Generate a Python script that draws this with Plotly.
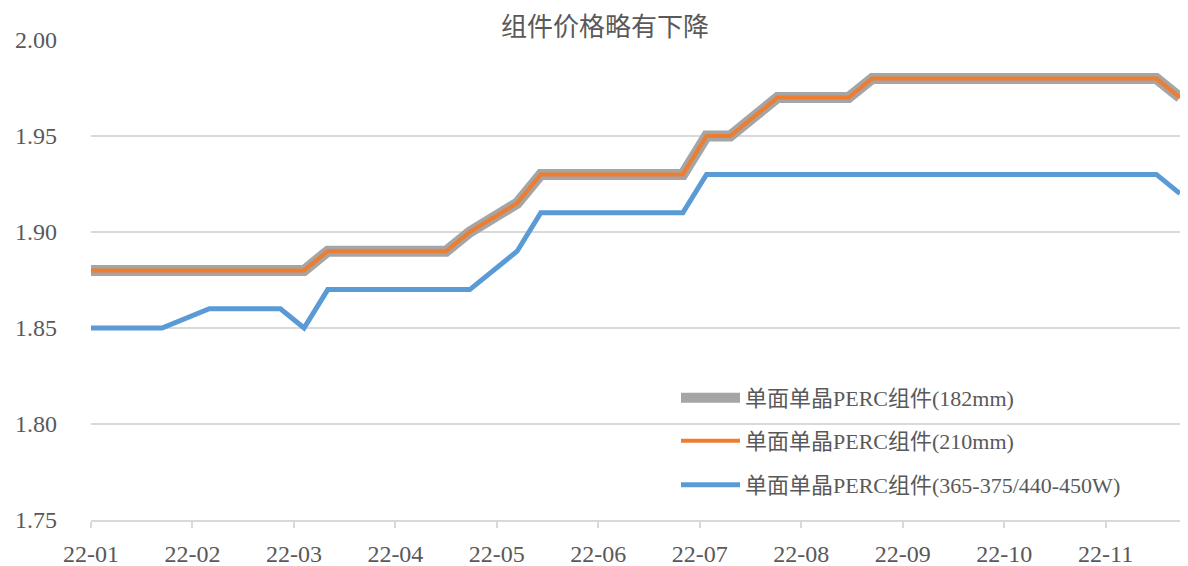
import plotly.graph_objects as go

dates = [
    "2022-01-05", "2022-01-12", "2022-01-19", "2022-01-26",
    "2022-02-09", "2022-02-16", "2022-02-23", "2022-03-02", "2022-03-09",
    "2022-03-16", "2022-03-23", "2022-03-30", "2022-04-06", "2022-04-13",
    "2022-04-20", "2022-04-27", "2022-05-11", "2022-05-18", "2022-05-25",
    "2022-06-01", "2022-06-08", "2022-06-15", "2022-06-22", "2022-06-29",
    "2022-07-06", "2022-07-13", "2022-07-20", "2022-07-27", "2022-08-03",
    "2022-08-10", "2022-08-17", "2022-08-24", "2022-08-31", "2022-09-07",
    "2022-09-14", "2022-09-21", "2022-09-28", "2022-10-12", "2022-10-19",
    "2022-10-26", "2022-11-02", "2022-11-09", "2022-11-16", "2022-11-23",
]

perc_182 = [
    1.88, 1.88, 1.88, 1.88,
    1.88, 1.88, 1.88, 1.88, 1.88,
    1.89, 1.89, 1.89, 1.89, 1.89,
    1.89, 1.90, 1.915, 1.93, 1.93,
    1.93, 1.93, 1.93, 1.93, 1.93,
    1.95, 1.95, 1.96, 1.97, 1.97,
    1.97, 1.97, 1.98, 1.98, 1.98,
    1.98, 1.98, 1.98, 1.98, 1.98,
    1.98, 1.98, 1.98, 1.98, 1.97,
]

perc_210 = list(perc_182)

perc_w = [
    1.85, 1.85, 1.85, 1.85,
    1.86, 1.86, 1.86, 1.86, 1.85,
    1.87, 1.87, 1.87, 1.87, 1.87,
    1.87, 1.87, 1.89, 1.91, 1.91,
    1.91, 1.91, 1.91, 1.91, 1.91,
    1.93, 1.93, 1.93, 1.93, 1.93,
    1.93, 1.93, 1.93, 1.93, 1.93,
    1.93, 1.93, 1.93, 1.93, 1.93,
    1.93, 1.93, 1.93, 1.93, 1.92,
]

names = ["单面单晶PERC组件(182mm)", "单面单晶PERC组件(210mm)", "单面单晶PERC组件(365-375/440-450W)"]
title_text = "组件价格略有下降"

FONT = "Liberation Serif, Noto Sans CJK SC, serif"
TXT = "#595959"
GRID = "#d9d9d9"

# page body adds an 8px offset; figure sized to fit the window
W, H = 1180, 558
L, R, T, B = 83, 8, 32, 46
PW = W - L - R
PH = H - T - B
OFF = 8

fig = go.Figure()
fig.add_trace(go.Scatter(x=dates, y=perc_182, mode="lines", name=names[0],
                         line=dict(color="#a5a5a5", width=11), legend="legend"))
fig.add_trace(go.Scatter(x=dates, y=perc_210, mode="lines", name=names[1],
                         line=dict(color="#ed7d31", width=4), legend="legend2"))
fig.add_trace(go.Scatter(x=dates, y=perc_w, mode="lines", name=names[2],
                         line=dict(color="#5b9bd5", width=5), legend="legend3"))

def leg(yc):
    return dict(xref="paper", yref="paper", x=(676 - OFF - L) / PW,
                y=(H - B - (yc - OFF)) / PH,
                xanchor="left", yanchor="middle", bgcolor="rgba(0,0,0,0)",
                itemwidth=59,
                font=dict(family=FONT, size=22, color=TXT))

fig.update_layout(
    width=W, height=H,
    margin=dict(l=L, r=R, t=T, b=B, autoexpand=False),
    paper_bgcolor="white", plot_bgcolor="white",
    font=dict(family=FONT, size=22, color=TXT),
    title=dict(text=title_text, xref="container", yref="container",
               x=(605 - OFF) / W, y=1 - (27 - OFF) / H, xanchor="center", yanchor="middle",
               font=dict(family=FONT, size=26, color=TXT)),
    showlegend=True,
    legend=leg(398), legend2=leg(441), legend3=leg(485),
    xaxis=dict(type="date", range=[dates[0], dates[-1]],
               tick0=dates[0], dtick=30 * 86400000, tickformat="%y-%m",
               showgrid=False, showline=True, linecolor=GRID, linewidth=1.5,
               ticks="outside", ticklen=6, tickcolor=GRID, tickwidth=1.5,
               ticklabelstandoff=5,
               tickfont=dict(family=FONT, size=24, color=TXT), zeroline=False),
    yaxis=dict(range=[1.75, 2.00], dtick=0.05, tick0=1.75, tickformat=".2f",
               showgrid=True, gridcolor=GRID, gridwidth=1.5, zeroline=False,
               showline=False, ticks="", ticklabelstandoff=33,
               tickfont=dict(family=FONT, size=24, color=TXT)),
)

fig.write_html("out.html")
